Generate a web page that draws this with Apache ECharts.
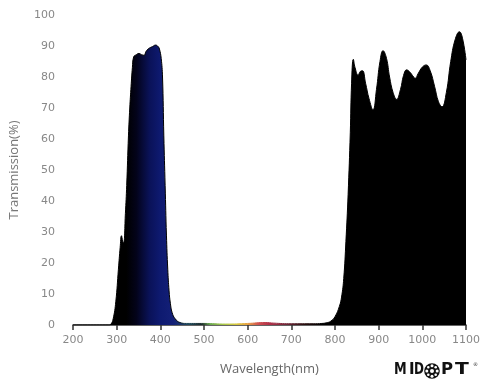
<!DOCTYPE html>
<html><head><meta charset="utf-8">
<script src="https://cdn.jsdelivr.net/npm/echarts@6/dist/echarts.min.js"></script>
<style>html,body{margin:0;padding:0;background:#fff}#c{width:500px;height:388px}</style>
</head><body><div id="c"></div>
<script>
const wavelengths = [200,282,287,292,298,304,308,311,314,316,320,323,327,330,333,336,339,345,351,357,363,367,372,377,382,389,395,398,402,405,408,411,414,417,420,423,427,434,445,460,500,550,600,640,660,700,750,770,780,790,800,810,815,820,825,830,835,838,842,846,853,858,863,870,878,887,895,903,910,918,925,933,941,950,957,964,972,980,984,990,1000,1009,1018,1028,1037,1045,1055,1065,1075,1085,1092,1100];
const transmission = [0,0,0.3,2,7.5,18,25,28.8,27,26.5,36,45,61,70,77,83,86.5,87.2,87.6,87.2,87,88.2,89,89.5,89.8,90.3,89.8,89,86,80,61,45,29,18,11,7,4,2,0.8,0.5,0.5,0.3,0.5,0.8,0.6,0.4,0.4,0.5,0.7,1.2,2.7,6,9,15,27,42,62,78,85.7,83,80.6,81.8,82,78,73,69.4,76,85,88.5,86,80,75,72.8,76,80.5,82.3,81.5,80,79.6,81,83.2,83.9,82,77,72,70.4,75,85,92,94.6,92.5,85.5];
const xTicks = [200,300,400,500,600,700,800,900,1000,1100];
const yTicks = [0,10,20,30,40,50,60,70,80,90,100];

const data = wavelengths.map((w,i)=>[w,transmission[i]]);
const off = nm => (nm-200)/900;
const areaStops = [
  [200,'#000000'],[322,'#000000'],[345,'#03031a'],[375,'#0a1258'],[400,'#0e1a70'],[430,'#142078'],
  [465,'#1f4a5c'],[495,'#1a2a2a'],[515,'#6aa850'],[545,'#a8c84a'],[575,'#d8c840'],[600,'#e6a040'],
  [625,'#d05050'],[650,'#b03048'],[690,'#702838'],[730,'#2a1010'],[770,'#000000'],[1100,'#000000']
].map(s=>({offset:off(s[0]),color:s[1]}));
const lineStops = [
  [200,'#000000'],[440,'#000000'],[465,'#1f4a5c'],[495,'#1a2a2a'],[515,'#6aa850'],[545,'#a8c84a'],
  [575,'#d8c840'],[600,'#e6a040'],[625,'#d05050'],[650,'#b03048'],[690,'#702838'],[730,'#2a1010'],
  [770,'#000000'],[1100,'#000000']
].map(s=>({offset:off(s[0]),color:s[1]}));

const logoFont = 'bold 15px "DejaVu Sans"';
const ly = 363;
const chart = echarts.init(document.getElementById('c'), null, {renderer:'canvas'});
chart.setOption({
  backgroundColor:'#fff',
  animation:false,
  grid:{left:70,right:34,top:15,bottom:63},
  xAxis:{
    type:'value', min:200, max:1100, interval:100,
    name:'Wavelength(nm)', nameLocation:'middle', nameGap:38,
    nameTextStyle:{color:'#666',fontSize:13,fontFamily:'Open Sans'},
    axisLine:{show:true,lineStyle:{color:'#333',width:1.5}},
    axisTick:{show:true,inside:false,length:5,lineStyle:{color:'#333',width:1.5}},
    axisLabel:{color:'#888',fontSize:11,fontFamily:'DejaVu Sans',margin:10,
      formatter:v=>xTicks.includes(v)?String(v):''},
    splitLine:{show:false}
  },
  yAxis:{
    type:'value', min:0, max:100, interval:10,
    name:'Transmission(%)', nameLocation:'middle', nameGap:52,
    nameTextStyle:{color:'#777',fontSize:13,fontFamily:'Open Sans'},
    axisLine:{show:false}, axisTick:{show:false}, splitLine:{show:false},
    axisLabel:{color:'#888',fontSize:11,fontFamily:'DejaVu Sans',margin:18,
      formatter:v=>yTicks.includes(v)?String(v):''}
  },
  series:[{
    type:'line', data:data, smooth:0.45, symbol:'none',
    lineStyle:{width:1,color:{type:'linear',x:0,y:0,x2:1,y2:0,colorStops:lineStops}},
    areaStyle:{opacity:1,color:{type:'linear',x:0,y:0,x2:1,y2:0,colorStops:areaStops}}
  }],
  graphic:[
    {type:'text',x:394,y:ly,scaleX:0.85,style:{text:'M',fill:'#111',font:logoFont}},
    {type:'text',x:409,y:ly,style:{text:'I',fill:'#111',font:logoFont}},
    {type:'text',x:414,y:ly,scaleX:0.8,style:{text:'D',fill:'#111',font:logoFont}},
    {type:'circle',shape:{cx:432,cy:371,r:7.8},style:{fill:'#111'}},
    {type:'group',children:[
      {type:'circle',shape:{cx:432,cy:371,r:2},style:{fill:'#fff'}},
      {type:'circle',shape:{cx:432,cy:365.8,r:1.5},style:{fill:'#fff'}},
      {type:'circle',shape:{cx:432,cy:376.2,r:1.5},style:{fill:'#fff'}},
      {type:'circle',shape:{cx:426.8,cy:371,r:1.5},style:{fill:'#fff'}},
      {type:'circle',shape:{cx:437.2,cy:371,r:1.5},style:{fill:'#fff'}},
      {type:'circle',shape:{cx:428.3,cy:367.3,r:1.3},style:{fill:'#fff'}},
      {type:'circle',shape:{cx:435.7,cy:367.3,r:1.3},style:{fill:'#fff'}},
      {type:'circle',shape:{cx:428.3,cy:374.7,r:1.3},style:{fill:'#fff'}},
      {type:'circle',shape:{cx:435.7,cy:374.7,r:1.3},style:{fill:'#fff'}}
    ]},
    {type:'text',x:441,y:ly,scaleX:1.1,style:{text:'P',fill:'#111',font:logoFont}},
    {type:'text',x:455,y:ly,scaleX:1.35,style:{text:'T',fill:'#111',font:logoFont}},
    {type:'text',x:473,y:362,style:{text:'®',fill:'#333',font:'5px "DejaVu Sans"'}}
  ]
});
</script></body></html>
